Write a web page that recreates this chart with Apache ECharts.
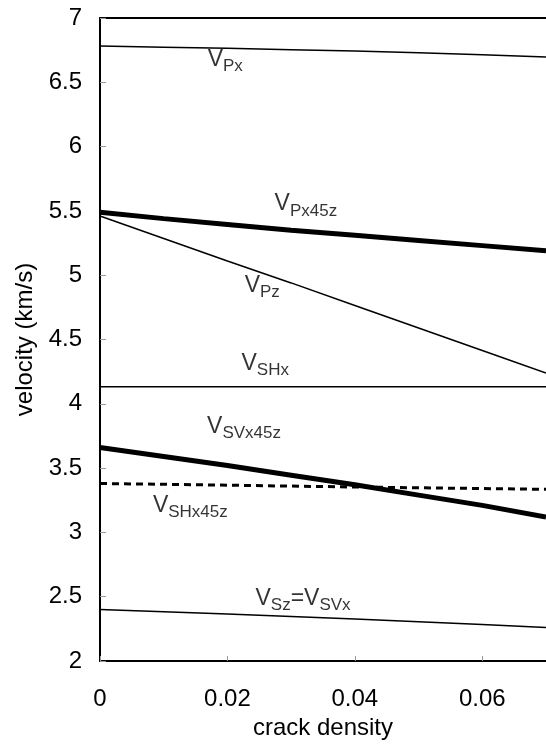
<!DOCTYPE html>
<html><head><meta charset="utf-8">
<script src="https://cdn.jsdelivr.net/npm/echarts@6/dist/echarts.min.js"></script>
<style>html,body{margin:0;padding:0;background:#fff}#c{width:546px;height:745px}</style>
</head><body><div id="c"></div>
<script>
// ---- data ----
const crackDensity = [0, 0.01, 0.02, 0.03, 0.04, 0.05, 0.06, 0.07];
const vPx      = [6.783, 6.773, 6.764, 6.754, 6.743, 6.730, 6.714, 6.697];
const vPx45z   = [5.49, 5.44, 5.395, 5.35, 5.31, 5.27, 5.23, 5.19];
const vPz      = [5.46, 5.285, 5.11, 4.94, 4.765, 4.59, 4.415, 4.24];
const vSHx     = [4.133, 4.133, 4.133, 4.133, 4.133, 4.133, 4.133, 4.133];
const vSVx45z  = [3.66, 3.59, 3.52, 3.445, 3.37, 3.29, 3.21, 3.12];
const vSHx45z  = [3.38, 3.374, 3.367, 3.36, 3.353, 3.347, 3.341, 3.335];
const vSzSVx   = [2.40, 2.383, 2.365, 2.346, 2.326, 2.305, 2.283, 2.26];
const xTickInterval = 0.02;
const yTickInterval = 0.5;
// curve labels (rich text) and their anchors in data coordinates
const labelTexts = [
  '{v|V}{s|Px}', '{v|V}{s|Px45z}', '{v|V}{s|Pz}', '{v|V}{s|SHx}',
  '{v|V}{s|SVx45z}', '{v|V}{s|SHx45z}', '{v|V}{s|Sz}{v|=V}{s|SVx}'
];
const labelAnchors = [
  [0.0169, 6.675], [0.0274, 5.553], [0.0227, 4.922], [0.0222, 4.314],
  [0.0168, 3.823], [0.0083, 3.211], [0.0244, 2.484]
];

const FONT = '"Liberation Sans", Arial, Helvetica, sans-serif';
const chart = echarts.init(document.getElementById('c'), null, {renderer: 'canvas'});

function lineSeries(name, data, width, type) {
  return {
    name: name, type: 'line', xAxisIndex: 0, yAxisIndex: 0,
    data: crackDensity.map((x, i) => [x, data[i]]),
    symbol: 'none', silent: true, z: 3,
    lineStyle: {color: '#000', width: width, type: type || 'solid', cap: 'butt'}
  };
}

const rich = {
  v: {fontSize: 23, lineHeight: 23, fontFamily: FONT, color: '#000', verticalAlign: 'top'},
  s: {fontSize: 17, lineHeight: 17, padding: [10, 0, 0, 0], fontFamily: FONT, color: '#000', verticalAlign: 'top'}
};

chart.setOption({
  animation: false,
  backgroundColor: '#fff',
  grid: {left: 100, right: -1, top: 18, bottom: 81, containLabel: false},
  xAxis: [{
    type: 'value', min: 0, max: 0.07, interval: xTickInterval,
    axisLine: {onZero: false, lineStyle: {color: '#000', width: 2}},
    axisTick: {inside: true, length: 5, lineStyle: {color: '#999', width: 1}},
    axisLabel: {fontSize: 24, color: '#000', margin: 26, fontFamily: FONT, showMaxLabel: false},
    splitLine: {show: false},
    name: 'crack density', nameLocation: 'middle', nameGap: 55,
    nameTextStyle: {fontSize: 24, color: '#000', fontFamily: FONT}
  }, {
    type: 'value', position: 'top', min: 0, max: 0.07,
    axisLine: {show: true, onZero: false, lineStyle: {color: '#000', width: 2}},
    axisTick: {show: false}, axisLabel: {show: false}, splitLine: {show: false}
  }],
  yAxis: [{
    type: 'value', min: 2, max: 7, interval: yTickInterval,
    axisLine: {show: true, onZero: false, lineStyle: {color: '#000', width: 2}},
    axisTick: {show: true, inside: true, length: 6, lineStyle: {color: '#999', width: 1}},
    axisLabel: {fontSize: 24, color: '#000', margin: 18, fontFamily: FONT},
    splitLine: {show: false},
    name: 'velocity (km/s)', nameLocation: 'middle', nameGap: 62,
    nameTextStyle: {fontSize: 24, color: '#000', fontFamily: FONT}
  }],
  series: [
    lineSeries('VPx', vPx, 1.5),
    lineSeries('VPx45z', vPx45z, 5),
    lineSeries('VPz', vPz, 1.5),
    lineSeries('VSHx', vSHx, 1.5),
    lineSeries('VSVx45z', vSVx45z, 5),
    lineSeries('VSHx45z', vSHx45z, 3, [7, 5]),
    lineSeries('VSz=VSVx', vSzSVx, 1.5),
    {
      name: 'labels', type: 'scatter', xAxisIndex: 0, yAxisIndex: 0,
      symbolSize: 0, silent: true, z: 5,
      data: labelAnchors.map((p, i) => ({value: p, name: labelTexts[i]})),
      label: {
        show: true, position: 'right', distance: 0,
        formatter: p => labelTexts[p.dataIndex], rich: rich
      }
    }
  ]
});
</script></body></html>
